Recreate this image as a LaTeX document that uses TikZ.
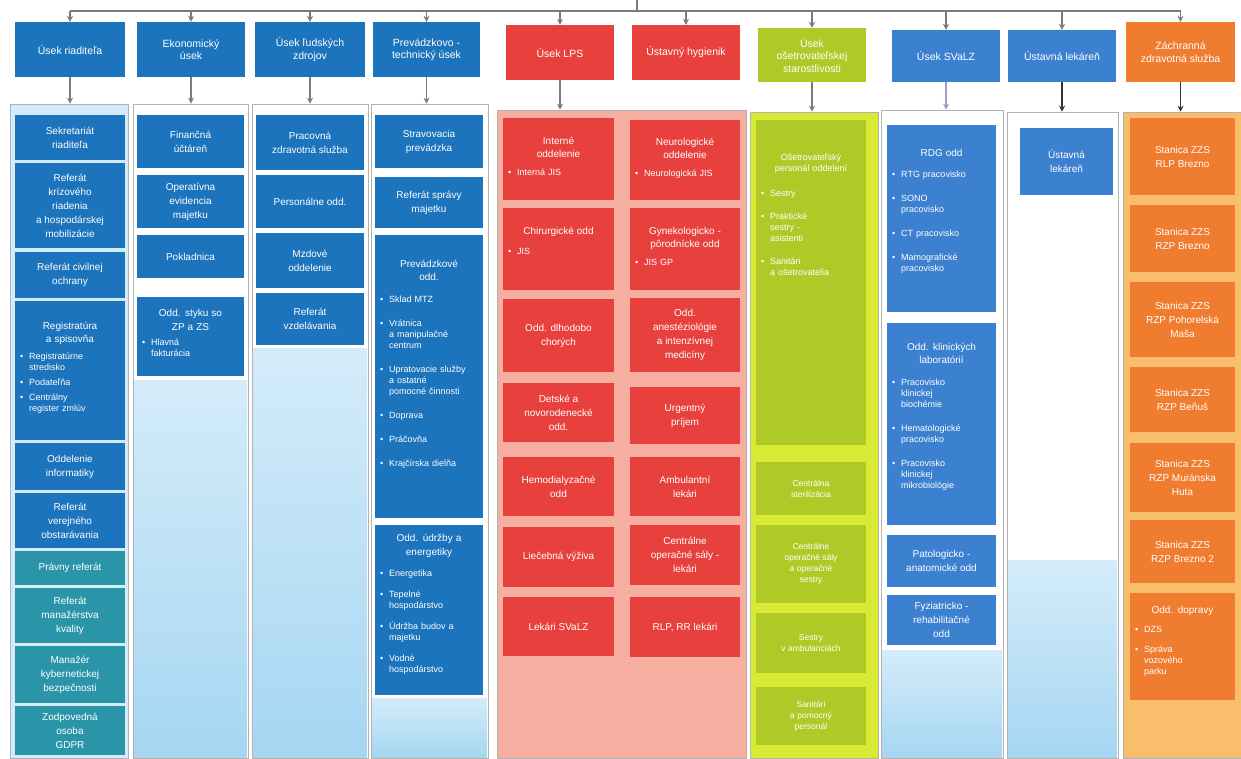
\documentclass[tikz,border=0pt]{standalone}
\usepackage{fontspec}
\setmainfont{Liberation Sans}
\usetikzlibrary{arrows.meta}
\definecolor{cblue}{HTML}{1B74BC}
\definecolor{cteal}{HTML}{2A95A8}
\definecolor{cred}{HTML}{E8413D}
\definecolor{credp}{HTML}{F5AE9F}
\definecolor{cgreen}{HTML}{AFC927}
\definecolor{cgreenp}{HTML}{D8EA34}
\definecolor{cblue2}{HTML}{3C80D0}
\definecolor{corange}{HTML}{F07C2F}
\definecolor{corangep}{HTML}{F8BE6C}
\definecolor{clight}{HTML}{A6D6F2}
\definecolor{clight2}{HTML}{D4ECFA}
\definecolor{carrow}{HTML}{7A7A7A}
\newcommand\bx[7]{\node[#2, minimum width={#5-#3}, minimum height={#6-#4}] (#1) at ({(#3+#5)/2},{(#4+#6)/2}) {#7};}
\newcommand\bbx[8]{\node[#2, minimum width={#5-#3}, minimum height={#6-#4}, text width=#7pt] (#1) at ({(#3+#5)/2},{(#4+#6)/2}) {#8};}
\newlength\bgap
\setlength\bgap{5pt}
\newcommand\bi[1]{\textbullet & \begin{tabular}[t]{@{}l@{}}#1\end{tabular}\\\noalign{\vskip\bgap}}
\newenvironment{blist}{\par\noindent\hspace*{2pt}\begin{tabular}{@{}l@{\hspace{6pt}}l@{}}}{\end{tabular}}
\newcommand\btitle[1]{{\centering\fontsize{10}{13.5}\selectfont #1\par}}
\tikzset{
  hdr/.style={fill=#1, text=white, align=center, font=\fontsize{10.5}{12.5}\selectfont, inner sep=2pt},
  bxs/.style={fill=#1, text=white, align=center, font=\fontsize{10}{14}\selectfont, inner sep=2pt},
  sbx/.style={fill=#1, text=white, align=center, font=\fontsize{8.5}{11}\selectfont, inner sep=2pt},
  bul/.style={fill=#1, text=white, align=left, font=\fontsize{9}{11}\selectfont, inner sep=3pt},
  panel/.style={draw=gray!60, line width=0.6pt, fill=#1, inner sep=0pt},
  lowfill/.style={top color=clight2, bottom color=clight, draw=none, inner sep=0pt},
  line/.style={draw=carrow, line width=1.2pt},
  arr/.style={draw=#1, line width=1.1pt, -{Stealth[length=6pt,width=6pt]}},
  arr/.default=carrow
}
\begin{document}
\begin{tikzpicture}[x=1pt,y=-1pt]
\useasboundingbox[fill=white] (0,0) rectangle (1241,758);
% ---------- headers ----------
\bx{h1}{hdr=cblue}{15}{22}{125}{77}{Úsek riaditeľa}
\bx{h2}{hdr=cblue}{137}{22}{245}{77}{Ekonomický\\úsek}
\bx{h3}{hdr=cblue}{255}{22}{365}{77}{Úsek ľudských\\zdrojov}
\bx{h4}{hdr=cblue}{373}{22}{480}{77}{Prevádzkovo -\\technický úsek}
\bx{h5}{hdr=cred}{506}{25}{614}{80}{Úsek LPS}
\bx{h6}{hdr=cred}{632}{25}{740}{80}{Ústavný hygienik}
\bx{h7}{hdr=cgreen}{758}{28}{866}{82}{Úsek\\ošetrovateľskej\\starostlivosti}
\bx{h8}{hdr=cblue2}{892}{30}{1000}{82}{Úsek SVaLZ}
\bx{h9}{hdr=cblue2}{1008}{30}{1116}{82}{Ústavná lekáreň}
\bx{h10}{hdr=corange}{1126}{22}{1235}{82}{Záchranná\\zdravotná služba}
% ---------- panels ----------
\bx{p1}{panel=clight2}{10}{104}{128}{758}{}
\bx{p2}{panel=white}{133}{104}{248}{758}{}
\bx{p3}{panel=white}{252}{104}{368}{758}{}
\bx{p4}{panel=white}{371}{104}{488}{758}{}
\bx{p5}{panel=credp}{497}{110}{746}{758}{}
\bx{p7}{panel=cgreenp}{750}{112}{878}{758}{}
\bx{p8}{panel=white}{881}{110}{1003}{758}{}
\bx{p9}{panel=white}{1007}{112}{1118}{758}{}
\bx{p10}{panel=corangep}{1123}{112}{1241}{758}{}
\bx{f2}{lowfill}{134}{380}{247}{757}{}
\bx{f3}{lowfill}{253}{348}{367}{757}{}
\bx{f4}{lowfill}{372}{698}{487}{757}{}
\bx{f8}{lowfill}{882}{650}{1002}{757}{}
\bx{f9}{lowfill}{1008}{560}{1117}{757}{}
% ---------- bus and arrows ----------
\coordinate (t0) at (637,0);
\coordinate (bus) at (637,11);
\draw[line] (t0) -- (bus);
\draw[line] (h1.north |- bus) -- (h10.north |- bus);
\foreach \h in {h1,h2,h3,h4,h5,h6,h7,h8,h9,h10}
  \draw[arr] (\h.north |- bus) -- (\h.north);
\draw[arr] (h1.south) -- (h1.south |- p1.north);
\draw[arr] (h2.south) -- (h2.south |- p2.north);
\draw[arr] (h3.south) -- (h3.south |- p3.north);
\draw[arr] (h4.south) -- (h4.south |- p4.north);
\draw[arr] (h5.south) -- (h5.south |- p5.north);
\draw[arr] (h7.south) -- (h7.south |- p7.north);
\draw[arr=gray!70!blue!60] (h8.south) -- (h8.south |- p8.north);
\draw[arr=black!80] (h9.south) -- (h9.south |- p9.north);
\draw[arr=black!80] (h10.south) -- (h10.south |- p10.north);
% ---------- column 1 ----------
\bx{a1}{bxs=cblue}{15}{115}{125}{160}{Sekretariát\\riaditeľa}
\bx{a2}{bxs=cblue}{15}{163}{125}{248}{Referát\\krízového\\riadenia\\a hospodárskej\\mobilizácie}
\bx{a3}{bxs=cblue}{15}{252}{125}{298}{Referát civilnej\\ochrany}
\setlength\bgap{4pt}
\bbx{a4}{bul=cblue}{15}{301}{125}{440}{104}{\btitle{Registratúra\\a spisovňa}\vspace{6pt}\begin{blist}\bi{Registratúrne\\stredisko}\bi{Podateľňa}\bi{Centrálny\\register zmlúv}\end{blist}}
\bx{a5}{bxs=cblue}{15}{443}{125}{490}{Oddelenie\\informatiky}
\bx{a6}{bxs=cblue}{15}{493}{125}{548}{Referát\\verejného\\obstarávania}
\bx{a7}{bxs=cteal}{15}{551}{125}{585}{Právny referát}
\bx{a8}{bxs=cteal}{15}{588}{125}{643}{Referát\\manažérstva\\kvality}
\bx{a9}{bxs=cteal}{15}{646}{125}{703}{Manažér\\kybernetickej\\bezpečnosti}
\bx{a10}{bxs=cteal}{15}{706}{125}{755}{Zodpovedná\\osoba\\GDPR}
% ---------- column 2 ----------
\bx{b1}{bxs=cblue}{137}{115}{244}{168}{Finančná\\účtáreň}
\bx{b2}{bxs=cblue}{137}{175}{244}{228}{Operatívna\\evidencia\\majetku}
\bx{b3}{bxs=cblue}{137}{235}{244}{278}{Pokladnica}
\bbx{b4}{bul=cblue}{137}{297}{244}{376}{101}{\btitle{Odd. styku so\\ZP a ZS}\vspace{6pt}\begin{blist}\bi{Hlavná\\fakturácia}\end{blist}}
% ---------- column 3 ----------
\bx{c1}{bxs=cblue}{256}{115}{364}{170}{Pracovná\\zdravotná služba}
\bx{c2}{bxs=cblue}{256}{175}{364}{228}{Personálne odd.}
\bx{c3}{bxs=cblue}{256}{233}{364}{288}{Mzdové\\oddelenie}
\bx{c4}{bxs=cblue}{256}{293}{364}{345}{Referát\\vzdelávania}
% ---------- column 4 ----------
\bx{d1}{bxs=cblue}{375}{115}{483}{168}{Stravovacia\\prevádzka}
\bx{d2}{bxs=cblue}{375}{177}{483}{228}{Referát správy\\majetku}
\setlength\bgap{13pt}
\bbx{d3}{bul=cblue}{375}{235}{483}{518}{102}{\btitle{Prevádzkové\\odd.}\vspace{13pt}\begin{blist}\bi{Sklad MTZ}\bi{Vrátnica\\a manipulačné\\centrum}\bi{Upratovacie služby\\a ostatné\\pomocné činnosti}\bi{Doprava}\bi{Práčovňa}\bi{Krajčírska dielňa}\end{blist}\vspace{10pt}}
\setlength\bgap{10pt}
\bbx{d4}{bul=cblue}{375}{525}{483}{695}{102}{\btitle{Odd. údržby a\\energetiky}\vspace{10pt}\begin{blist}\bi{Energetika}\bi{Tepelné\\hospodárstvo}\bi{Údržba budov a\\majetku}\bi{Vodné\\hospodárstvo}\end{blist}}
% ---------- column 5 ----------
\setlength\bgap{2pt}
\bbx{e1}{bul=cred}{503}{118}{614}{200}{105}{\btitle{Interné\\oddelenie}\vspace{8pt}\begin{blist}\bi{Interná JIS}\end{blist}}
\bbx{e2}{bul=cred}{503}{208}{614}{290}{105}{\btitle{Chirurgické odd}\vspace{10pt}\begin{blist}\bi{JIS}\end{blist}\vspace{12pt}}
\bx{e3}{bxs=cred}{503}{299}{614}{372}{Odd. dlhodobo\\chorých}
\bx{e4}{bxs=cred}{503}{383}{614}{442}{Detské a\\novorodenecké\\odd.}
\bx{e5}{bxs=cred}{503}{457}{614}{516}{Hemodialyzačné\\odd}
\bx{e6}{bxs=cred}{503}{527}{614}{587}{Liečebná výživa}
\bx{e7}{bxs=cred}{503}{597}{614}{656}{Lekári SVaLZ}
% ---------- column 6 ----------
\bbx{g1}{bul=cred}{630}{120}{740}{200}{104}{\btitle{Neurologické\\oddelenie}\vspace{8pt}\begin{blist}\bi{Neurologická JIS}\end{blist}}
\bbx{g2}{bul=cred}{630}{208}{740}{290}{104}{\btitle{Gynekologicko -\\pôrodnícke odd}\vspace{8pt}\begin{blist}\bi{JIS GP}\end{blist}}
\bx{g3}{bxs=cred}{630}{298}{740}{372}{Odd.\\anestéziológie\\a intenzívnej\\medicíny}
\bx{g4}{bxs=cred}{630}{387}{740}{444}{Urgentný\\príjem}
\bx{g5}{bxs=cred}{630}{457}{740}{516}{Ambulantní\\lekári}
\bx{g6}{bxs=cred}{630}{525}{740}{585}{Centrálne\\operačné sály -\\lekári}
\bx{g7}{bxs=cred}{630}{597}{740}{657}{RLP, RR lekári}
% ---------- column 7 ----------
\setlength\bgap{12pt}
\bbx{k1}{bul=cgreen}{756}{120}{866}{445}{104}{{\centering Ošetrovateľský\\personál oddelení\par}\vspace{14pt}\begin{blist}\bi{Sestry}\bi{Praktické\\sestry -\\asistenti}\bi{Sanitári\\a ošetrovatelia}\end{blist}\vspace{120pt}}
\bx{k2}{sbx=cgreen}{756}{462}{866}{515}{Centrálna\\sterilizácia}
\bx{k3}{sbx=cgreen}{756}{525}{866}{603}{Centrálne\\operačné sály\\a operačné\\sestry}
\bx{k4}{sbx=cgreen}{756}{613}{866}{673}{Sestry\\v ambulanciách}
\bx{k5}{sbx=cgreen}{756}{687}{866}{745}{Sanitári\\a pomocný\\personál}
% ---------- column 8 ----------
\setlength\bgap{13pt}
\bbx{m1}{bul=cblue2}{887}{125}{996}{312}{103}{\btitle{RDG odd}\vspace{13pt}\begin{blist}\bi{RTG pracovisko}\bi{SONO\\pracovisko}\bi{CT pracovisko}\bi{Mamografické\\pracovisko}\end{blist}}
\bbx{m2}{bul=cblue2}{887}{323}{996}{525}{103}{\btitle{Odd. klinických\\laboratórií}\vspace{13pt}\begin{blist}\bi{Pracovisko\\klinickej\\biochémie}\bi{Hematologické\\pracovisko}\bi{Pracovisko\\klinickej\\mikrobiológie}\end{blist}}
\bx{m3}{bxs=cblue2}{887}{535}{996}{587}{Patologicko -\\anatomické odd}
\bx{m4}{bxs=cblue2}{887}{595}{996}{645}{Fyziatricko -\\rehabilitačné\\odd}
% ---------- column 9 ----------
\bx{n1}{bxs=cblue2}{1020}{128}{1113}{195}{Ústavná\\lekáreň}
% ---------- column 10 ----------
\bx{r1}{bxs=corange}{1130}{118}{1235}{195}{Stanica ZZS\\RLP Brezno}
\bx{r2}{bxs=corange}{1130}{205}{1235}{272}{Stanica ZZS\\RZP Brezno}
\bx{r3}{bxs=corange}{1130}{282}{1235}{357}{Stanica ZZS\\RZP Pohorelská\\Maša}
\bx{r4}{bxs=corange}{1130}{367}{1235}{432}{Stanica ZZS\\RZP Beňuš}
\bx{r5}{bxs=corange}{1130}{443}{1235}{512}{Stanica ZZS\\RZP Muránska\\Huta}
\bx{r6}{bxs=corange}{1130}{520}{1235}{583}{Stanica ZZS\\RZP Brezno 2}
\setlength\bgap{9pt}
\bbx{r7}{bul=corange}{1130}{593}{1235}{700}{99}{\btitle{Odd. dopravy}\vspace{9pt}\begin{blist}\bi{DZS}\bi{Správa\\vozového\\parku}\end{blist}}
\end{tikzpicture}
\end{document}
